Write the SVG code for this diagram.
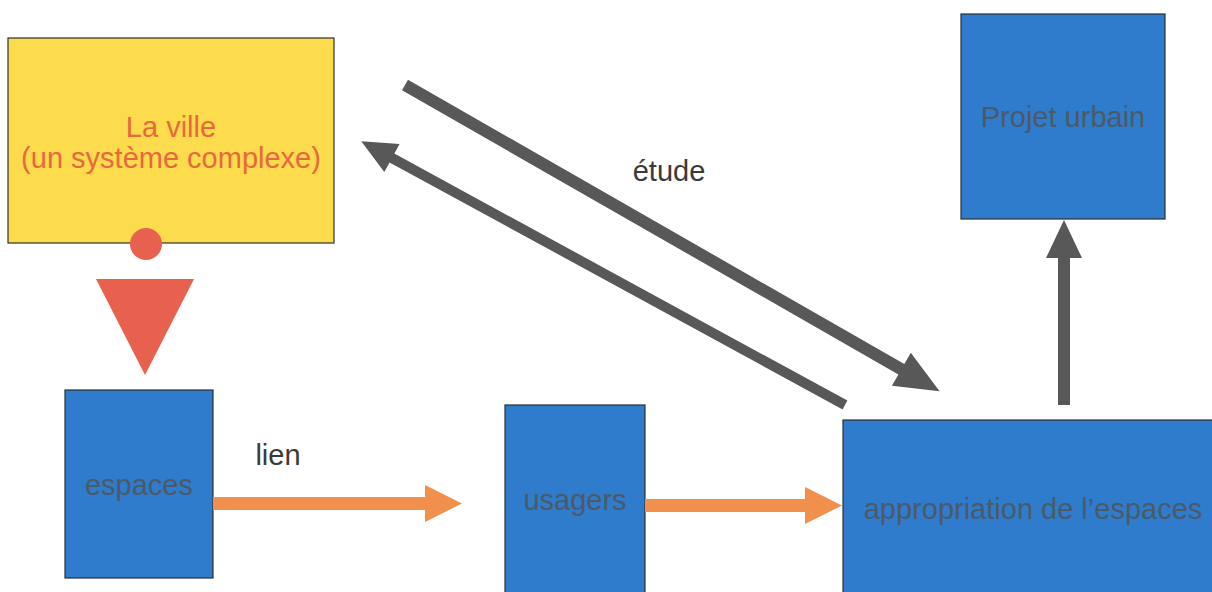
<svg xmlns="http://www.w3.org/2000/svg" width="1212" height="592" viewBox="0 0 1212 592">
<style>
.box{stroke:#2a2f36;stroke-width:1.2}
.blue{fill:#2f7ccc}
.t{font-family:"Liberation Sans",Arial,sans-serif;font-size:29px;text-anchor:middle}
.tb{fill:#4b5a68}
.tl{fill:#3a3a3a}
.orange{fill:#f0904c}
.grey{fill:#585858}
</style>
<rect width="1212" height="592" fill="#ffffff"/>
<g id="ville">
<rect class="box" x="8" y="38" width="326" height="205" fill="#fcdc4c"/>
<text class="t" x="171" y="137" fill="#e8683e">La ville</text>
<text class="t" x="171" y="168" fill="#e8683e">(un système complexe)</text>
</g>
<g id="connecteur-rouge">
<circle cx="146" cy="244" r="16" fill="#e8604e"/>
<polygon points="96,279 194,279 145,375" fill="#e8604e"/>
</g>
<g id="espaces">
<rect class="box blue" x="65" y="390" width="148" height="188"/>
<text class="t tb" x="139" y="495">espaces</text>
</g>
<g id="usagers">
<rect class="box blue" x="505" y="405" width="140" height="195"/>
<text class="t tb" x="575" y="510">usagers</text>
</g>
<g id="appropriation">
<rect class="box blue" x="843" y="420" width="380" height="180"/>
<text class="t tb" x="1033" y="519">appropriation de l’espaces</text>
</g>
<g id="projet">
<rect class="box blue" x="961" y="14" width="204" height="205"/>
<text class="t tb" x="1063" y="127">Projet urbain</text>
</g>
<g id="connectors">
<polygon class="orange" points="213,497 425,497 425,485 462,503.5 425,522 425,510 213,510"/>
<polygon class="orange" points="645,499 805,499 805,487 842,505.5 805,524 805,512 645,512"/>
<polygon class="grey" points="1058,405 1058,258 1046,258 1064,220 1082,258 1070,258 1070,405"/>
<g transform="translate(405,85) rotate(29.8)">
<polygon class="grey" points="0,-6 572,-6 572,-19 616,0 572,19 572,6 0,6"/>
</g>
<g transform="translate(845,405) rotate(208.6)">
<polygon class="grey" points="0,-5 516,-5 516,-16 551,0 516,16 516,5 0,5"/>
</g>
<text class="t tl" x="669" y="181">étude</text>
<text class="t tl" x="278" y="465">lien</text>
</g>
</svg>
